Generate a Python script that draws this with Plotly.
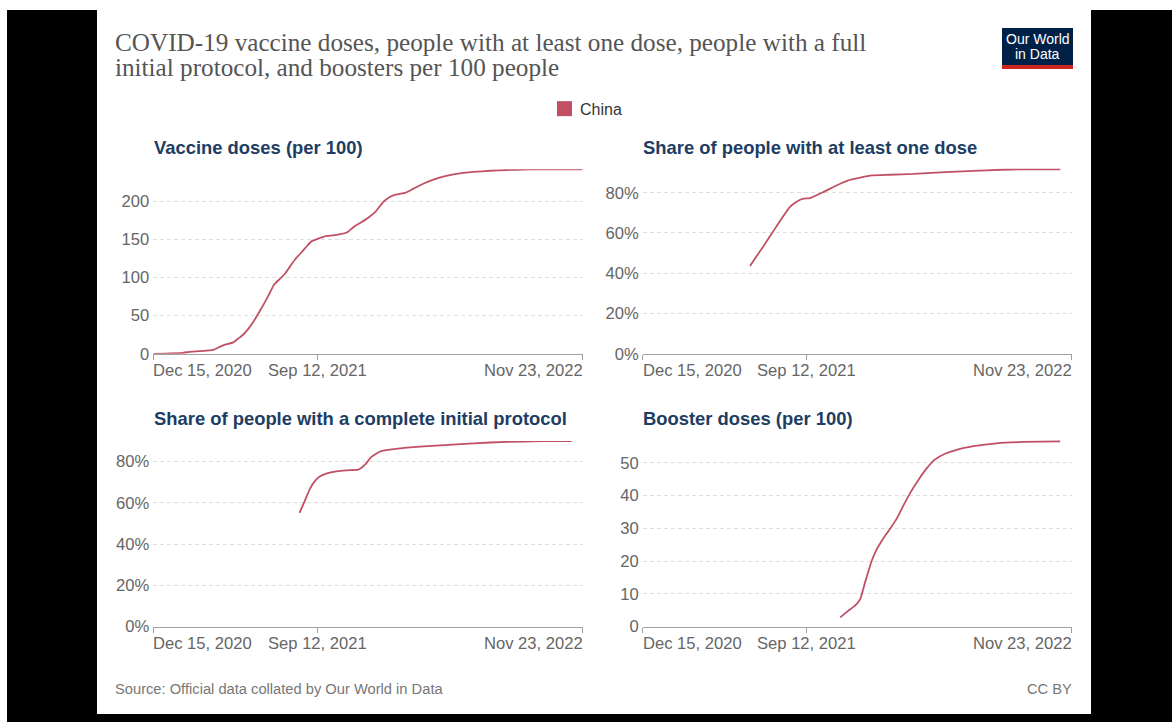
import plotly.graph_objects as go

# The photographed page is squeezed vertically (~733 page px -> 722 image px),
# so the figure is made 733 px tall while positions are given in image pixels.
W, H_IMG = 1172, 722
H = 733

# ---------------- data ----------------
doses_dates = ["2020-12-15", "2021-02-02", "2021-02-13", "2021-03-18", "2021-03-24", "2021-04-09",
               "2021-04-26", "2021-05-04", "2021-05-12", "2021-05-21", "2021-05-29", "2021-06-06",
               "2021-06-14", "2021-06-23", "2021-07-02", "2021-07-12", "2021-07-20", "2021-07-28",
               "2021-08-06", "2021-08-17", "2021-08-25", "2021-09-02", "2021-09-13", "2021-09-27",
               "2021-10-13", "2021-10-30", "2021-11-10", "2021-11-21", "2021-12-02", "2021-12-16",
               "2021-12-29", "2022-01-09", "2022-01-20", "2022-02-03", "2022-02-17", "2022-03-05",
               "2022-03-22", "2022-04-07", "2022-04-29", "2022-05-27", "2022-06-23", "2022-07-21",
               "2022-08-17", "2022-09-14", "2022-10-11", "2022-11-23"]
doses_values = [0, 1.3, 2.6, 4.4, 5.2, 11, 15, 20, 25, 33, 42, 52.5, 63.5, 76.6, 90.6, 98.5, 105, 114,
                124, 133.5, 141, 147.5, 151, 154.5, 156, 159, 166, 171.5, 177, 186, 199, 205.7, 209,
                211, 216.6, 223, 228.4, 232.4, 236, 238.5, 240, 241, 241.5, 242, 242, 242]

one_dose_dates = ["2021-06-10", "2021-07-02", "2021-07-24", "2021-08-15", "2021-08-26", "2021-09-06",
                  "2021-09-17", "2021-10-09", "2021-10-31", "2021-11-19", "2021-12-09", "2021-12-28",
                  "2022-01-27", "2022-03-07", "2022-04-20", "2022-06-14", "2022-07-28", "2022-09-04",
                  "2022-11-04"]
one_dose_values = [43.6, 53.3, 63.4, 72.9, 75.5, 77.0, 77.3, 80.3, 83.6, 86.1, 87.5, 88.6, 88.9, 89.3,
                   90.1, 90.8, 91.4, 91.6, 91.6]

full_dates = ["2021-08-13", "2021-08-22", "2021-08-30", "2021-09-08", "2021-09-16", "2021-09-27",
              "2021-10-13", "2021-10-30", "2021-11-18", "2021-11-29", "2021-12-10", "2021-12-24",
              "2022-01-09", "2022-02-06", "2022-04-02", "2022-05-27", "2022-07-21", "2022-09-14",
              "2022-11-05"]
full_values = [55.1, 61.1, 66.7, 70.8, 72.9, 74.3, 75.3, 75.8, 76.1, 78.5, 82.4, 84.9, 85.8, 86.8,
               87.9, 88.9, 89.6, 89.9, 89.9]

booster_dates = ["2021-11-06", "2021-11-19", "2021-11-30", "2021-12-09", "2021-12-17", "2021-12-28",
                 "2022-01-05", "2022-01-16", "2022-01-27", "2022-02-07", "2022-02-18", "2022-03-01",
                 "2022-03-15", "2022-03-29", "2022-04-11", "2022-04-28", "2022-05-17", "2022-06-14",
                 "2022-07-22", "2022-09-04", "2022-11-04"]
booster_values = [2.8, 4.8, 6.3, 8.4, 13.5, 20.1, 23.5, 26.9, 29.8, 32.9, 36.9, 40.7, 44.8, 48.4,
                  51.0, 52.8, 54.0, 55.1, 56.0, 56.4, 56.6]

x_tick_dates = ["2020-12-15", "2021-09-12", "2022-11-23"]
x_tick_labels = ["Dec 15, 2020", "Sep 12, 2021", "Nov 23, 2022"]
x_range = ["2020-12-15", "2022-11-23"]

panel_titles = ["Vaccine doses (per 100)", "Share of people with at least one dose",
                "Share of people with a complete initial protocol", "Booster doses (per 100)"]
y_ticks = [[0, 50, 100, 150, 200], [0, 20, 40, 60, 80], [0, 20, 40, 60, 80], [0, 10, 20, 30, 40, 50]]
y_suffix = ["", "%", "%", ""]
y_max = [242, 92, 90, 57]
country = "China"

# ---------------- styling ----------------
LINE = "#c15065"
AXIS = "#a0a0a0"
GRID = "#dddddd"
TICKTXT = "#666666"
TITLEBLUE = "#1d3d63"
FONT = "Liberation Sans"


def px(x):
    return x / W


def py(y):
    return 1 - y / H_IMG


# panel geometry (image pixels)
x_dom = [(153.3, 582.7), (642.7, 1071.7), (153.3, 582.7), (642.7, 1071.7)]
y_dom = [(353.3, 169.0), (353.3, 168.3), (625.7, 440.4), (625.7, 439.4)]

fig = go.Figure()
series = [(doses_dates, doses_values), (one_dose_dates, one_dose_values),
          (full_dates, full_values), (booster_dates, booster_values)]

for i, (d, v) in enumerate(series):
    n = "" if i == 0 else str(i + 1)
    fig.add_trace(go.Scatter(x=d, y=v, mode="lines", name=country, showlegend=False,
                             line=dict(color=LINE, width=1.8, shape="spline", smoothing=0.4),
                             xaxis="x" + n, yaxis="y" + n))
    fig.update_layout(**{
        "xaxis" + n: dict(domain=[px(x_dom[i][0]), px(x_dom[i][1])], type="date", range=x_range,
                          anchor="y" + n, showgrid=False, zeroline=False, showline=True,
                          linecolor=AXIS, linewidth=1, ticks="outside", ticklen=5, tickcolor=AXIS,
                          tickwidth=1, tickvals=x_tick_dates, showticklabels=False, fixedrange=True),
        "yaxis" + n: dict(domain=[py(y_dom[i][0]), py(y_dom[i][1])], range=[0, y_max[i]],
                          anchor="x" + n, tickvals=y_ticks[i],
                          ticktext=[f"{t}{y_suffix[i]}" for t in y_ticks[i]],
                          showgrid=True, gridcolor=GRID, griddash="4px,3px", gridwidth=1,
                          zeroline=False, showline=False, ticks="", ticklabelstandoff=3,
                          tickfont=dict(family=FONT, size=16.6, color=TICKTXT), fixedrange=True),
    })

annotations = []
shapes = []

for i in range(4):
    n = "" if i == 0 else str(i + 1)
    ylab = y_dom[i][0] + 17
    anchors = ["left", "center", "right"]
    shifts = [-2, 0, 2]
    for tv, tl, an, sh in zip(x_tick_dates, x_tick_labels, anchors, shifts):
        annotations.append(dict(x=tv, y=py(ylab), xref="x" + n, yref="paper", text=tl,
                                showarrow=False, xanchor=an, yanchor="middle", xshift=sh,
                                font=dict(family=FONT, size=16.6, color=TICKTXT)))
    annotations.append(dict(x=px(x_dom[i][0] - 1.5), y=py(147 if i < 2 else 418), xref="paper",
                            yref="paper", text="<b>" + panel_titles[i] + "</b>", showarrow=False,
                            xanchor="left", yanchor="middle",
                            font=dict(family=FONT, size=18.4, color=TITLEBLUE)))

title_lines = ["COVID-19 vaccine doses, people with at least one dose, people with a full",
               "initial protocol, and boosters per 100 people"]
for k, t in enumerate(title_lines):
    annotations.append(dict(x=px(113), y=py(42 + 25 * k), xref="paper", yref="paper", text=t,
                            showarrow=False, xanchor="left", yanchor="middle",
                            font=dict(family="Liberation Serif", size=25.2, color="#555555")))

# legend
shapes.append(dict(type="rect", xref="paper", yref="paper", x0=px(557), x1=px(572), y0=py(116),
                   y1=py(101), fillcolor=LINE, line=dict(width=0)))
annotations.append(dict(x=px(578), y=py(109), xref="paper", yref="paper", text=country,
                        showarrow=False, xanchor="left", yanchor="middle",
                        font=dict(family=FONT, size=16, color="#333333")))

# logo
shapes.append(dict(type="rect", xref="paper", yref="paper", x0=px(1002), x1=px(1073), y0=py(69),
                   y1=py(28), fillcolor="#002147", line=dict(width=0)))
shapes.append(dict(type="rect", xref="paper", yref="paper", x0=px(1002), x1=px(1073), y0=py(69),
                   y1=py(65), fillcolor="#ce261e", line=dict(width=0)))
for k, t in enumerate(["Our World", "in Data"]):
    annotations.append(dict(x=px(1037.5), y=py(38.5 + 15 * k), xref="paper", yref="paper", text=t,
                            showarrow=False, xanchor="center", yanchor="middle",
                            font=dict(family=FONT, size=14, color="white")))

# footer
annotations.append(dict(x=px(113), y=py(688), xref="paper", yref="paper",
                        text="Source: Official data collated by Our World in Data", showarrow=False,
                        xanchor="left", yanchor="middle", font=dict(family=FONT, size=14.7, color="#777777")))
annotations.append(dict(x=px(1074), y=py(688), xref="paper", yref="paper", text="CC BY",
                        showarrow=False, xanchor="right", yanchor="middle",
                        font=dict(family=FONT, size=14.7, color="#777777")))

# black frame around the page
for (x0, x1, y0, y1) in [(7, 97, 10, 722), (1091, 1172, 10, 722), (7, 1172, 713, 722)]:
    shapes.append(dict(type="rect", xref="paper", yref="paper", x0=px(x0), x1=px(x1), y0=py(y1),
                       y1=py(y0), fillcolor="black", line=dict(width=0), layer="above"))

fig.update_layout(width=W, height=H, margin=dict(l=0, r=0, t=0, b=0), paper_bgcolor="white",
                  plot_bgcolor="white", showlegend=False, annotations=annotations, shapes=shapes,
                  font=dict(family=FONT))

fig.write_html("out.html", config={"displayModeBar": False},
               post_script="document.body.style.margin='0';document.body.style.overflow='hidden';")
